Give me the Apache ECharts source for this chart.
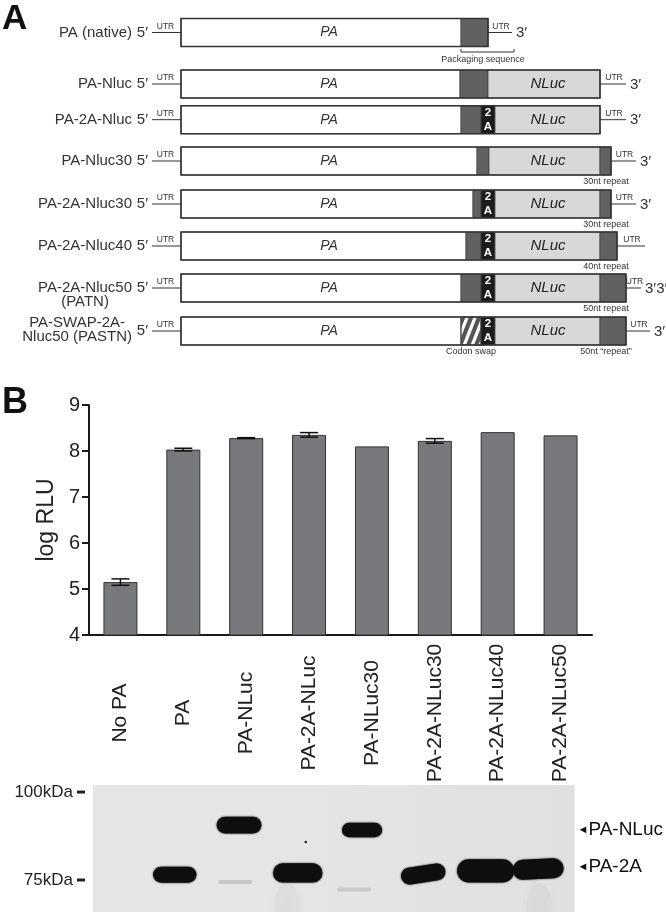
<!DOCTYPE html>
<html><head><meta charset="utf-8">
<script src="https://cdn.jsdelivr.net/npm/echarts@6/dist/echarts.min.js"></script>
<style>html,body{margin:0;padding:0;background:#fff}#c{width:666px;height:912px}</style>
</head><body><div id="c"></div>
<script>
// ================= DATA =================
// Panel B: luciferase activity
const categories = ['No PA','PA','PA-NLuc','PA-2A-NLuc','PA-NLuc30','PA-2A-NLuc30','PA-2A-NLuc40','PA-2A-NLuc50'];
const logRLU     = [5.15, 8.03, 8.28, 8.35, 8.10, 8.22, 8.41, 8.34];
const logRLUErr  = [0.07, 0.03, 0.01, 0.05, 0.00, 0.05, 0.00, 0.00];
const yAxisName  = 'log RLU';

// Panel A: construct maps (schematic units along the construct)
const constructNames = ['PA (native)','PA-Nluc','PA-2A-Nluc','PA-Nluc30','PA-2A-Nluc30','PA-2A-Nluc40','PA-2A-Nluc50\n(PATN)','PA-SWAP-2A-\nNluc50 (PASTN)'];
const paEnd      = [280, 279, 280, 296, 292, 285, 280, 280];
const packEnd    = [307, 307, 300, 308, 300, 300, 300, 300];
const twoAEnd    = [0, 0, 314, 0, 314, 314, 314, 314];
const nlucEnd    = [0, 419, 419, 419, 419, 419, 419, 419];
const repeatEnd  = [0, 0, 0, 430, 430, 436, 445, 445];
const utrEnd     = [331, 445, 445, 455, 455, 464, 460, 469];
const threePrime = ['3′','3′','3′','3′','3′','','3′3′','3′'];
const codonSwap  = [false,false,false,false,false,false,false,true];
const repeatLabels = ['','','','30nt repeat','30nt repeat','40nt repeat','50nt repeat','50nt \u201Crepeat\u201D'];
const packagingLabel = 'Packaging sequence';
const codonSwapLabel = 'Codon swap';
const regionNames = {pa:'PA', nluc:'NLuc', twoA:['2','A'], utr:'UTR', five:'5′'};

// Western blot
const kDaMarkers    = [75, 100];
const bandLabels    = ['PA-NLuc', 'PA-2A'];
const bandLabelKDa  = [89.2, 78.8];
const bandLane      = [1.0, 2.04, 1.98, 2.99, 4.03, 3.9, 5.02, 6.03, 6.88];
const bandKDa       = [76.5, 90.6, 74.4, 77.0, 89.2, 72.3, 76.7, 77.6, 78.1];
const bandIntensity = [1.0, 1.05, 0.10, 1.2, 0.9, 0.08, 1.05, 1.45, 1.25];
const smearLane     = [2.82, 6.9];
const speckLane = [3.12], speckKDa = [85.8];

// ================= LAYOUT / STYLE =================
const FONT = '"Liberation Sans", Arial, Helvetica, sans-serif';
const DARK = '#616161', LIGHT = '#d8d8d8', INK = '#333';
const rowTop = [18.5, 70, 105.7, 147, 190, 232, 274, 317];
const boxHeight = 28;
const labelDy = [0,0,0,0,0,0,7,-1];
const blotXMin = -0.323, blotXMax = 7.468;

const mctx = document.createElement('canvas').getContext('2d');
function textW(t, size){ mctx.font = size + 'px ' + FONT; return mctx.measureText(t).width; }

function clipX(pts, xmin, xmax){
  function clip(p, inside, inter){
    const out=[];
    for (let k=0;k<p.length;k++){
      const a=p[k], b=p[(k+1)%p.length];
      const ia=inside(a), ib=inside(b);
      if (ia) out.push(a);
      if (ia!==ib) out.push(inter(a,b));
    }
    return out;
  }
  const ix = x0 => (a,b) => { const t=(x0-a[0])/(b[0]-a[0]); return [x0, a[1]+t*(b[1]-a[1])]; };
  let r = clip(pts, q=>q[0]>=xmin, ix(xmin));
  r = clip(r, q=>q[0]<=xmax, ix(xmax));
  return r;
}

function renderConstruct(params, api){
  const i = api.value(0);
  const top = rowTop[i];
  const X = v => api.coord([v, top])[0];
  const y0 = api.coord([0, top])[1];
  const H = api.size([0, boxHeight])[1];
  const ym = y0 + H/2, yb = y0 + H;
  const ch = [];
  const txt = (text, x, y, o) => ch.push({type:'text', z2:10, style:Object.assign({text, x, y, fill:INK, fontFamily:FONT, fontSize:15, align:'center', verticalAlign:'middle'}, o||{})});
  const line = (x1,y1,x2,y2,w) => ch.push({type:'line', shape:{x1,y1,x2,y2}, style:{stroke:INK, lineWidth:w||1}});
  const seg = (a,b,fill) => ch.push({type:'rect', shape:{x:X(a), y:y0, width:X(b)-X(a), height:H}, style:{fill, stroke:'#444', lineWidth:0.8}});

  const name = constructNames[i];
  const lines = name.split('\n');
  if (lines.length === 1) txt(name, X(-49), ym, {align:'right'});
  else {
    const w = Math.max(...lines.map(l => textW(l, 15)));
    txt(name, X(-49) - w/2, ym + labelDy[i], {align:'center', lineHeight:14});
  }
  txt(regionNames.five, X(-33), ym, {align:'right'});
  line(X(-29), ym, X(0), ym);
  txt(regionNames.utr, (X(-29)+X(0))/2 - 1, ym - 1.5, {fontSize:8.5, verticalAlign:'bottom'});

  seg(0, paEnd[i], '#ffffff');
  txt(regionNames.pa, X(148), ym, {fontStyle:'italic', fontSize:14});
  if (codonSwap[i]){
    seg(paEnd[i], packEnd[i], '#ffffff');
    const xa = X(paEnd[i]), xb = X(packEnd[i]);
    const run = 11, sw = 4.5, per = 8;
    for (let k=-2;k<5;k++){
      const s = xa - 3 + k*per;
      const poly = [[s, yb], [s+sw, yb], [s+sw+run, y0], [s+run, y0]];
      const c = clipX(poly, xa, xb);
      if (c.length > 2) ch.push({type:'polygon', shape:{points:c}, style:{fill:'#555'}});
    }
    ch.push({type:'rect', shape:{x:xa, y:y0, width:xb-xa, height:H}, style:{fill:'none', stroke:'#444', lineWidth:0.8}});
  } else {
    seg(paEnd[i], packEnd[i], DARK);
  }
  let cur = packEnd[i];
  if (twoAEnd[i]){
    seg(cur, twoAEnd[i], '#1c1c1c');
    const cx = (X(cur) + X(twoAEnd[i]))/2;
    txt(regionNames.twoA[0], cx, ym - H*0.24, {fill:'#fff', fontWeight:'bold', fontSize:11.5});
    txt(regionNames.twoA[1], cx, ym + H*0.24, {fill:'#fff', fontWeight:'bold', fontSize:11.5});
    cur = twoAEnd[i];
  }
  if (nlucEnd[i]){
    seg(cur, nlucEnd[i], LIGHT);
    txt(regionNames.nluc, X(367), ym, {fontStyle:'italic', fontSize:15, fill:'#222'});
    cur = nlucEnd[i];
  }
  if (repeatEnd[i]){
    seg(cur, repeatEnd[i], DARK);
    cur = repeatEnd[i];
  }
  ch.push({type:'rect', shape:{x:X(0), y:y0, width:X(cur)-X(0), height:H}, style:{fill:'none', stroke:'#333', lineWidth:1.6}});

  line(X(cur), ym, X(utrEnd[i]), ym);
  txt(regionNames.utr, (X(cur)+X(utrEnd[i]))/2 + 1, ym - 1.5, {fontSize:8.5, verticalAlign:'bottom'});
  if (threePrime[i]) txt(threePrime[i], X(utrEnd[i]) + 4, ym + 0.5, {align:'left'});

  if (i === 0){
    const a = X(280), b = X(333), yl = yb + 5.5;
    line(a, yl, b, yl, 1); line(a, yl-3, a, yl, 1); line(b, yl-3, b, yl, 1);
    txt(packagingLabel, X(302), yb + 13, {fontSize:9});
  }
  if (repeatLabels[i]) txt(repeatLabels[i], X(425), yb + 7, {fontSize:9});
  if (codonSwap[i]) txt(codonSwapLabel, X(290), yb + 7, {fontSize:9});

  return {type:'group', children:ch};
}

function renderErr(params, api){
  const x = api.value(0), lo = api.value(1), hi = api.value(2);
  if (!(hi - lo > 0)) return null;
  const pHi = api.coord([x, hi]), pLo = api.coord([x, lo]);
  const cw = 9;
  const st = {stroke:'#111', lineWidth:1.5};
  return {type:'group', children:[
    {type:'line', shape:{x1:pHi[0], y1:pHi[1], x2:pLo[0], y2:pLo[1]}, style:st},
    {type:'line', shape:{x1:pHi[0]-cw, y1:pHi[1], x2:pHi[0]+cw, y2:pHi[1]}, style:st},
    {type:'line', shape:{x1:pLo[0]-cw, y1:pLo[1], x2:pLo[0]+cw, y2:pLo[1]}, style:st}
  ]};
}

function renderBand(params, api){
  const lane = api.value(0), kda = api.value(1), inten = api.value(2);
  const c = api.coord([lane, kda]);
  const laneW = api.size([1, 0])[0];
  let w, h, fill, blur, rot = 0;
  if (inten < 0.5){ w = laneW*0.55; h = 4; fill = 'rgba(90,90,90,' + (inten*2).toFixed(2) + ')'; blur = 3; }
  else { w = laneW*(0.7 + 0.5*(inten-1)); h = 16*inten; fill = '#0e0e0e'; blur = 2; }
  if (Math.round(lane) === 5) rot = 0.15;
  if (Math.round(lane) === 7) rot = 0.05;
  return {type:'rect', x:c[0], y:c[1], rotation: rot,
    shape:{x:-w/2, y:-h/2, width:w, height:h, r:h/2},
    style:{fill, shadowBlur:blur, shadowColor:fill}};
}

function renderSmear(params, api){
  const lane = api.value(0);
  const p1 = api.coord([lane, 74.0]), p2 = api.coord([lane, 65.9]);
  const w = api.size([0.42, 0])[0];
  return {type:'ellipse', shape:{cx:p1[0], cy:(p1[1]+p2[1])/2 + 8, rx:w/2, ry:(p2[1]-p1[1])/2 + 8},
    style:{fill:'rgba(120,120,120,0.05)', shadowBlur:16, shadowColor:'rgba(120,120,120,0.3)'}};
}

function renderSpeck(params, api){
  const c = api.coord([api.value(0), api.value(1)]);
  return {type:'circle', shape:{cx:c[0], cy:c[1], r:1.3}, style:{fill:'#222'}};
}

function renderMarker(params, api){
  const c = api.coord([blotXMin, api.value(0)]);
  return {type:'line', shape:{x1:c[0]-16, y1:c[1], x2:c[0]-8, y2:c[1]}, style:{stroke:'#222', lineWidth:3}};
}

const chart = echarts.init(document.getElementById('c'), null, {renderer:'canvas'});
chart.setOption({
  animation:false,
  backgroundColor:'#fff',
  textStyle:{fontFamily:FONT},
  title:[
    {text:'A', left:2, top:2, padding:0, textStyle:{fontSize:35, fontWeight:'bold', color:'#111', fontFamily:FONT}},
    {text:'B', left:2, top:385, padding:0, textStyle:{fontSize:36, fontWeight:'bold', color:'#111', fontFamily:FONT}}
  ],
  grid:[
    {left:181, top:0, width:484, height:360},
    {left:89, top:405, width:503, height:230},
    {left:93, top:785, width:483, height:127, show:true, borderWidth:0,
     backgroundColor:new echarts.graphic.LinearGradient(0,0,1,0,[{offset:0,color:'#e6e6e6'},{offset:0.5,color:'#e4e4e4'},{offset:1,color:'#e0e0e0'}])}
  ],
  xAxis:[
    {gridIndex:0, type:'value', min:0, max:484, show:false},
    {gridIndex:1, type:'category', data:categories,
     axisLine:{lineStyle:{color:'#1a1a1a', width:2}},
     axisTick:{length:8, lineStyle:{color:'#1a1a1a', width:2}},
     axisLabel:{rotate:90, align:'center', verticalAlign:'middle', margin:78, interval:0, fontSize:21, color:'#222', fontFamily:FONT}},
    {gridIndex:2, type:'value', min:blotXMin, max:blotXMax, show:false}
  ],
  yAxis:[
    {gridIndex:0, type:'value', min:0, max:360, inverse:true, show:false},
    {gridIndex:1, type:'value', min:4, max:9, interval:1,
     name:yAxisName, nameLocation:'middle', nameRotate:90, nameGap:27,
     nameTextStyle:{fontSize:23, color:'#222', fontFamily:FONT},
     axisLine:{show:true, lineStyle:{color:'#1a1a1a', width:2}},
     axisTick:{show:true, length:7, lineStyle:{color:'#1a1a1a', width:2}},
     axisLabel:{fontSize:20, color:'#222', margin:9, fontFamily:FONT},
     splitLine:{show:false}},
    {gridIndex:2, type:'value', min:65.9, max:102, position:'left',
     axisLine:{show:false}, splitLine:{show:false}, axisTick:{show:false},
     axisLabel:{customValues:kDaMarkers, formatter:'{value}kDa', margin:20, fontSize:17, color:'#222', fontFamily:FONT}},
    {gridIndex:2, type:'value', min:65.9, max:102, position:'right',
     axisLine:{show:false}, splitLine:{show:false}, axisTick:{show:false},
     axisLabel:{customValues:bandLabelKDa, margin:3, color:'#111', fontFamily:FONT,
       formatter:function(v){ const j = bandLabelKDa.findIndex(k => Math.abs(k - v) < 1e-6); return j < 0 ? '' : '{t|\u25C4}{n|' + bandLabels[j] + '}'; },
       rich:{t:{fontSize:11, color:'#111', fontFamily:FONT}, n:{fontSize:19, color:'#111', fontFamily:FONT}}}}
  ],
  series:[
    {type:'custom', xAxisIndex:0, yAxisIndex:0, renderItem:renderConstruct, silent:true,
     data:constructNames.map((n,i)=>[i])},
    {type:'bar', xAxisIndex:1, yAxisIndex:1, data:logRLU, barWidth:34, silent:true,
     itemStyle:{color:'#78797c', borderColor:'#333', borderWidth:1}},
    {type:'custom', xAxisIndex:1, yAxisIndex:1, renderItem:renderErr, silent:true, z:5,
     data:logRLU.map((v,i)=>[i, v - logRLUErr[i], v + logRLUErr[i]])},
    {type:'custom', xAxisIndex:2, yAxisIndex:2, renderItem:renderSmear, silent:true, z:2, clip:true,
     data:smearLane.map(l=>[l])},
    {type:'custom', xAxisIndex:2, yAxisIndex:2, renderItem:renderBand, silent:true, z:3,
     data:bandLane.map((l,i)=>[l, bandKDa[i], bandIntensity[i]])},
    {type:'custom', xAxisIndex:2, yAxisIndex:2, renderItem:renderSpeck, silent:true, z:3,
     data:speckLane.map((l,i)=>[l, speckKDa[i]])},
    {type:'custom', xAxisIndex:2, yAxisIndex:2, renderItem:renderMarker, silent:true, z:3, clip:false,
     data:kDaMarkers.map(k=>[k])}
  ]
});
</script>
</body></html>
